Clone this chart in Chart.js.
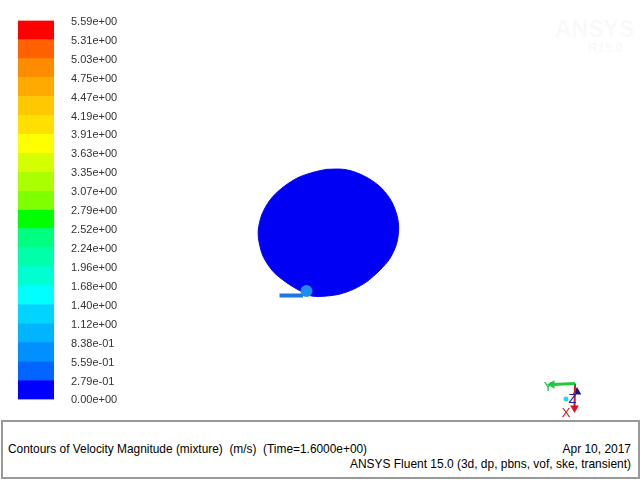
<!DOCTYPE html>
<html>
<head>
<meta charset="utf-8">
<script src="https://cdn.jsdelivr.net/npm/chart.js@4/dist/chart.umd.min.js"></script>
<style>
  html, body { margin: 0; padding: 0; background: #fff; overflow: hidden; }
  #stage { position: relative; width: 640px; height: 480px; font-family: "Liberation Sans", Arial, sans-serif; }
  canvas { position: absolute; left: 0; top: 0; }
  #barChart { top: -3px; }
  #mark { position: absolute; left: 555px; top: 18px; width: 68px; text-align: right; font-weight: bold; color: #f9f9f9; line-height: 1; }
  #mark .a { font-size: 23px; display: block; }
  #mark .b { font-size: 13px; display: block; margin-top: 0; }
  #box { position: absolute; left: 1px; top: 420px; width: 635px; height: 55px; border: 2px solid #999; background: #fff; }
  .cap { position: absolute; font-size: 11.96px; color: #000; white-space: pre; line-height: 14px; }
</style>
</head>
<body>
<div id="stage">
  <div id="box"></div>
  <canvas id="fieldChart" width="640" height="420"></canvas>
  <canvas id="barChart" width="130" height="426"></canvas>
  <div id="mark"><span class="a">ANSYS</span><span class="b">R15.0</span></div>
  <div class="cap" style="left:8px;top:442px;font-size:11.9px">Contours of Velocity Magnitude (mixture)  (m/s)  (Time=1.6000e+00)</div>
  <div class="cap" style="right:9px;top:442px">Apr 10, 2017</div>
  <div class="cap" style="right:9px;top:457px">ANSYS Fluent 15.0 (3d, dp, pbns, vof, ske, transient)</div>
</div>
<script>
// Colour bar levels, bottom to top
const levels = [0, 0.279, 0.559, 0.838, 1.12, 1.40, 1.68, 1.96, 2.24, 2.52, 2.79, 3.07, 3.35, 3.63, 3.91, 4.19, 4.47, 4.75, 5.03, 5.31, 5.59];
const levelLabels = ['0.00e+00', '2.79e-01', '5.59e-01', '8.38e-01', '1.12e+00', '1.40e+00', '1.68e+00', '1.96e+00', '2.24e+00', '2.52e+00', '2.79e+00', '3.07e+00', '3.35e+00', '3.63e+00', '3.91e+00', '4.19e+00', '4.47e+00', '4.75e+00', '5.03e+00', '5.31e+00', '5.59e+00'];
const bandColors = ['#0000ff', '#0066ff', '#0090ff', '#00b4ff', '#00d4ff', '#00ffff', '#00ffd0', '#00ffaa', '#00ff80', '#00ff00', '#80ff00', '#aaff00', '#d4ff00', '#ffff00', '#ffe000', '#ffc800', '#ffaa00', '#ff8c00', '#ff6000', '#ff0000'];

// Contour outline
const outlineX = [326.7, 343.3, 356.7, 370, 381.7, 391.7, 397.3, 398.7, 396.7, 390, 380, 366.7, 353.3, 340, 326.7, 311.7, 300, 286.7, 273.3, 263.3, 259, 258.3, 261.7, 270, 281.7, 296.7, 311.7, 326.7];
const outlineY = [169.3, 169.3, 172.7, 179.3, 188.3, 201.7, 216.7, 228.3, 243.3, 258.3, 270, 281.7, 289.3, 294, 296, 296, 290.7, 282.7, 271.7, 256.7, 241.7, 230, 215, 200, 188.3, 178.3, 172.7, 169.3];

// Inlet pipe and bulge
const inletX = [279.5, 303];
const inletY = [295.5, 295.5];
const bulgeX = [306.5];
const bulgeY = [291];

// Axes triad
const triadGreenX = [575, 552];
const triadGreenY = [383.5, 384.5];
const triadRedX = [575, 574.5];
const triadRedY = [383.5, 408];
const triadBlueX = [577];
const triadBlueY = [392];
const triadDotX = [566];
const triadDotY = [399];
const triadLetters = [['Y', 548, 387, '#19b34a'], ['Z', 572.5, 399, '#2020c0'], ['X', 566, 413, '#e01020']];

const zip = (xs, ys) => xs.map((x, i) => ({ x: x, y: ys[i] }));

// Letters on the triad
const letterPlugin = {
  id: 'letters',
  afterDatasetsDraw(chart) {
    const ctx = chart.ctx;
    ctx.save();
    ctx.font = '13px "Liberation Sans", Arial, sans-serif';
    ctx.textAlign = 'center';
    ctx.textBaseline = 'middle';
    triadLetters.forEach(l => {
      ctx.fillStyle = l[3];
      ctx.fillText(l[0], chart.scales.x.getPixelForValue(l[1]), chart.scales.y.getPixelForValue(l[2]));
    });
    ctx.restore();
  }
};

new Chart(document.getElementById('fieldChart'), {
  type: 'line',
  data: {
    datasets: [
      { data: zip(bulgeX, bulgeY), showLine: false, pointRadius: 6, pointBackgroundColor: '#1f8cf0', pointBorderWidth: 0, order: 1 },
      { data: zip(inletX, inletY), borderColor: '#1c78e4', borderWidth: 4, pointRadius: 0, order: 2 },
      { data: zip(outlineX, outlineY), fill: 'shape', tension: 0.3, borderColor: '#0000ff', borderWidth: 1, backgroundColor: '#0000f5', pointRadius: 0, order: 3 },
      { data: zip(triadGreenX, triadGreenY), borderColor: '#22c93c', borderWidth: 3, pointRadius: [0, 5], pointStyle: 'triangle', pointRotation: -90, pointBackgroundColor: '#22c93c', pointBorderWidth: 0, order: 0 },
      { data: zip(triadRedX, triadRedY), borderColor: '#d81020', borderWidth: 2, pointRadius: [0, 5], pointStyle: 'triangle', pointRotation: 180, pointBackgroundColor: '#e01020', pointBorderWidth: 0, order: 0 },
      { data: zip(triadBlueX, triadBlueY), showLine: false, pointRadius: 5, pointStyle: 'triangle', pointBackgroundColor: '#14148c', pointBorderWidth: 0, order: 0 },
      { data: zip(triadDotX, triadDotY), showLine: false, pointRadius: 2.5, pointBackgroundColor: '#30d0f0', pointBorderWidth: 0, order: 0 }
    ]
  },
  options: {
    responsive: false,
    animation: false,
    layout: { padding: 0, autoPadding: false },
    plugins: { legend: { display: false }, tooltip: { enabled: false } },
    scales: {
      x: { type: 'linear', display: false, min: 0, max: 640 },
      y: { type: 'linear', display: false, min: 0, max: 420, reverse: true }
    }
  },
  plugins: [letterPlugin]
});

// Colour bar, one floating bar per band
new Chart(document.getElementById('barChart'), {
  type: 'bar',
  data: {
    labels: [''],
    datasets: bandColors.map((c, i) => ({
      data: [[levels[i], levels[i + 1]]],
      backgroundColor: c,
      borderWidth: 0,
      grouped: false,
      barPercentage: 1,
      categoryPercentage: 1
    }))
  },
  options: {
    responsive: false,
    animation: false,
    layout: { padding: { left: 18, top: 21, bottom: 21, right: 0 }, autoPadding: false },
    plugins: { legend: { display: false }, tooltip: { enabled: false } },
    scales: {
      x: { display: false },
      y: {
        position: 'right',
        min: 0,
        max: 5.59,
        border: { display: false },
        grid: { display: false, drawTicks: false },
        afterBuildTicks(axis) { axis.ticks = levels.map(v => ({ value: v })); },
        afterFit(axis) { axis.width = 76; },
        ticks: {
          autoSkip: false,
          padding: 17,
          labelOffset: 1,
          color: '#333',
          font: { family: '"Liberation Sans", Arial, sans-serif', size: 11 },
          callback: (v, i) => levelLabels[i]
        }
      }
    }
  }
});
</script>
</body>
</html>
